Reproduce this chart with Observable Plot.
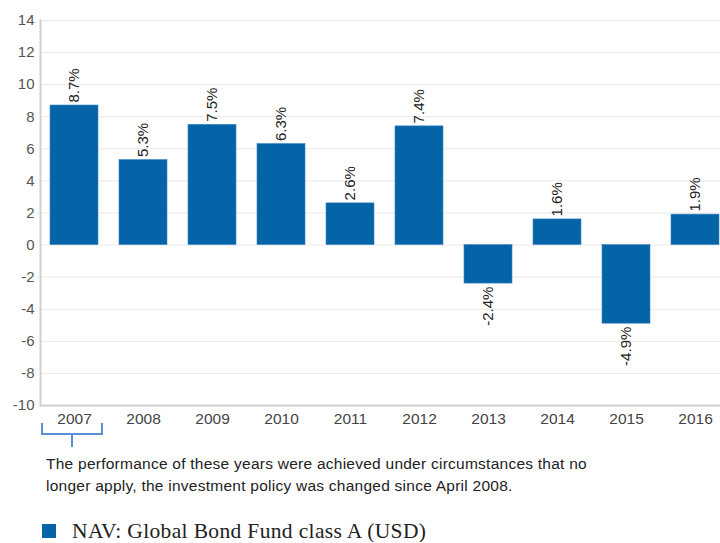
<!DOCTYPE html>
<html>
<head>
<meta charset="utf-8">
<script src="https://cdn.jsdelivr.net/npm/d3@7"></script>
<script src="https://cdn.jsdelivr.net/npm/@observablehq/plot@0.6"></script>
<style>
  body { margin: 0; background: #fff; font-family: "Liberation Sans", Arial, sans-serif; }
  #chart svg { display: block; }
  .caption { margin-left: 46px; font-size: 15.5px; letter-spacing: 0.25px; line-height: 22px; color: #222; font-family: "Liberation Sans", Arial, sans-serif; padding-top: 1px; }
  .legend { margin-top: 23px; margin-left: 42px; display: flex; align-items: center; font-family: "Liberation Serif", "Times New Roman", serif; font-size: 21.5px; letter-spacing: 0.35px; color: #222; line-height: 22px; }
  .legend .sw { width: 14px; height: 14px; background: #0563a8; margin-right: 16px; }
</style>
</head>
<body>
<div id="chart"></div>
<div class="caption">The performance of these years were achieved under circumstances that no<br>longer apply, the investment policy was changed since April 2008.</div>
<div class="legend"><div class="sw"></div><span id="legendText"></span></div>
<script>
const years = ["2007","2008","2009","2010","2011","2012","2013","2014","2015","2016"];
const values = [8.7, 5.3, 7.5, 6.3, 2.6, 7.4, -2.4, 1.6, -4.9, 1.9];
const labels = ["8.7%","5.3%","7.5%","6.3%","2.6%","7.4%","-2.4%","1.6%","-4.9%","1.9%"];
const yTicks = [-10, -8, -6, -4, -2, 0, 2, 4, 6, 8, 10, 12, 14];
const bracketYear = "2007";
const seriesName = "NAV: Global Bond Fund class A (USD)";

document.getElementById("legendText").textContent = seriesName;
const data = years.map((y, i) => ({year: y, value: values[i], label: labels[i]}));
const barColor = "#0563a8";

const chart = Plot.plot({
  width: 720,
  height: 452,
  marginTop: 20,
  marginBottom: 47,
  marginLeft: 40,
  marginRight: 0,
  style: {fontFamily: "'Liberation Sans', Arial, sans-serif", fontSize: "15px", color: "#555"},
  x: {domain: years, range: [39.5, 729.5], paddingInner: 0.3, paddingOuter: 0.15, label: null},
  y: {domain: [-10, 14], label: null},
  marks: [
    Plot.gridY(yTicks, {stroke: "#e8e8e8", strokeOpacity: 1}),
    Plot.barY(data, {x: "year", y: "value", fill: barColor, stroke: "#3b86c4", strokeWidth: 0.6}),
    Plot.text(data.filter(d => d.value >= 0), {x: "year", y: "value", text: "label", rotate: -90, textAnchor: "start", dy: -3, fontSize: 15, fill: "#222"}),
    Plot.text(data.filter(d => d.value < 0), {x: "year", y: "value", text: "label", rotate: -90, textAnchor: "end", dy: 3, fontSize: 15, fill: "#222"}),
    Plot.ruleY([-10], {stroke: "#cfcfcf", strokeWidth: 2}),
    Plot.frame({anchor: "left", stroke: "#cfcfcf", strokeWidth: 2}),
    Plot.axisY(yTicks, {tickSize: 0, tickPadding: 6, fontSize: 15, fill: "#555", label: null, tickFormat: d => String(d)}),
    Plot.axisX({tickSize: 0, tickPadding: 7, fontSize: 15.5, fill: "#444", label: null})
  ]
});
document.getElementById("chart").appendChild(chart);

// bracket under the first year, positioned from the chart's x scale
const xs = chart.scale("x");
const cx = xs.apply(bracketYear) + xs.bandwidth / 2 - 2;
const svg = d3.select(chart);
const half = 30, yTop = 423, yBar = 434, yTail = 447;
svg.append("path")
  .attr("d", `M${cx - half},${yTop}V${yBar}H${cx + half}V${yTop}M${cx},${yBar}V${yTail}`)
  .attr("fill", "none").attr("stroke", "#5a8fd8").attr("stroke-width", 2);
</script>
</body>
</html>
